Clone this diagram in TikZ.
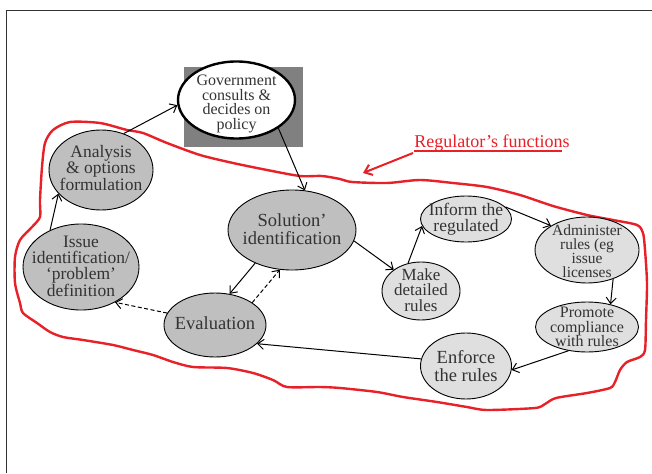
\documentclass[tikz,border=0pt]{standalone}
\usepackage{fontspec}
\setmainfont{Liberation Serif}
\usetikzlibrary{shapes.geometric,arrows.meta}
\definecolor{txt}{RGB}{51,51,51}
\definecolor{dk}{RGB}{191,191,191}
\definecolor{lt}{RGB}{223,223,223}
\definecolor{redl}{RGB}{232,32,40}
\definecolor{govbg}{RGB}{128,128,128}
\begin{document}
\begin{tikzpicture}[x=1pt,y=-1pt,
  el/.style={ellipse, draw=black, line width=0.9pt, inner sep=0pt},
  dkel/.style={el, fill=dk},
  ltel/.style={el, fill=lt},
  tx/.style={align=center, text=txt, inner sep=0pt},
  fs/.style 2 args={font=\fontsize{#1}{#2}\selectfont},
  conn/.style={line width=1pt, -{Straight Barb[length=6pt,width=10pt,line width=1pt]}},
  dconn/.style={conn, dash pattern=on 4pt off 2.5pt},
  redline/.style={draw=redl, line width=2.4pt, line join=round, line cap=round},
]
\useasboundingbox (0,0) rectangle (652,473);
\fill[white] (0,0) rectangle (652,473);
% frame
\draw[line width=1pt, black!80] (6,473) -- (6,11) -- (652,11);

% red outline
\draw[redline] plot[smooth cycle, tension=0.45] coordinates {
 (40,200) (42,167) (45,143) (53,130) (70,122) (100,123) (127,130) (143,133)
 (167,143) (200,155) (233,163) (267,170) (300,176) (322,176) (340,179) (352,182)
 (387,183) (420,180) (453,183) (487,187) (520,195) (553,206) (587,215) (613,220)
 (637,225) (643,233) (645,250) (647,283) (646,320) (645,350) (640,357) (627,362)
 (620,370) (615,382) (610,388) (587,393) (556,398) (545,404) (535,408) (487,410)
 (467,407) (437,402) (403,397) (377,392) (340,388) (320,387) (287,387) (273,380)
 (253,373) (227,368) (193,367) (173,362) (153,355) (133,350) (113,345) (83,340)
 (63,337) (50,332) (37,323) (23,313) (20,303) (15,283) (15,257) (20,240)
 (32,227) (40,217)};

% label
\node[anchor=base, text=redl, fs={18}{20}, inner sep=0pt] (lab) at (492,147) {Regulator's functions};
\draw[redl, line width=1.1pt] (lab.base west) ++(0,4) -- ++(148,0);
\coordinate (labtip) at (363,173);
\draw[draw=redl, line width=2pt, -{Straight Barb[length=7pt,width=11pt,line width=2pt]}] (413,153) -- (labtip);

% government
\fill[govbg] (184,67) rectangle (303,147);
\node[el, fill=white, line width=2.4pt, minimum width=117pt, minimum height=77pt] (gov) at (236.5,100) {};
\node[tx, fs={16}{14.6}] (govt) at (236.5,104) {Government\\consults \&\\decides on\\policy};

% ellipses
\node[dkel, minimum width=104pt, minimum height=80pt] (ana) at (101,170) {};
\node[dkel, minimum width=116pt, minimum height=86pt] (iss) at (81,267) {};
\node[dkel, minimum width=128pt, minimum height=80pt] (sol) at (292,230) {};
\node[dkel, minimum width=102pt, minimum height=64pt] (eva) at (215,325) {};
\node[ltel, minimum width=78pt, minimum height=58pt] (mak) at (421,291) {};
\node[ltel, minimum width=91pt, minimum height=46pt] (inf) at (466,219) {};
\node[ltel, minimum width=104pt, minimum height=66pt] (adm) at (587,250) {};
\node[ltel, minimum width=103pt, minimum height=50pt] (pro) at (587,327) {};
\node[ltel, minimum width=91pt, minimum height=66pt] (enf) at (466,366) {};

% texts
\node[tx, fs={17.5}{14.5}] (anat) at (101,168) {Analysis\\\& options\\formulation};
\node[tx, fs={17.5}{16}] (isst) at (81,266) {Issue\\identification/\\‘problem’\\definition};
\node[tx, fs={18.5}{18}] (solt) at (292,229) {Solution’\\identification};
\node[tx, fs={18.5}{18}] (evat) at (215,323) {Evaluation};
\node[tx, fs={17}{15.5}] (makt) at (421,290) {Make\\detailed\\rules};
\node[tx, fs={17.5}{16}] (inft) at (466,219) {Inform the\\regulated};
\node[tx, fs={15.5}{14.2}] (admt) at (587,251) {Administer\\rules (eg\\issue\\licenses};
\node[tx, fs={16}{14.6}] (prot) at (587,327) {Promote\\compliance\\with rules};
\node[tx, fs={18.5}{18}] (enft) at (466,366) {Enforce\\the rules};

% connectors
\draw[conn] (ana.58) -- (gov.185);
\draw[conn] (gov.-34) -- (sol.72);
\draw[conn] (iss.130) -- (ana.209);
\draw[conn] (sol.222) -- (eva.65);
\draw[dconn] (eva.31) -- (sol.253);
\draw[dconn] (eva.166) -- (iss.-46);
\draw[conn] (sol.-10) -- (mak.142);
\draw[conn] (mak.115) -- (inf.189);
\draw[conn] (inf.17) -- (adm.146);
\draw[conn] (adm.-48) -- (pro.44);
\draw[conn] (pro.232) -- (enf.-5);
\draw[conn] (enf.171) -- (eva.-24);
\end{tikzpicture}
\end{document}
